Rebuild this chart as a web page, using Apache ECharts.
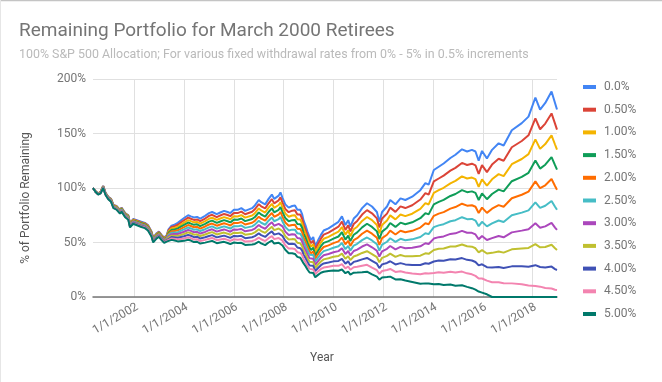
<!DOCTYPE html>
<html><head><meta charset="utf-8">
<script src="https://cdn.jsdelivr.net/npm/echarts@6/dist/echarts.min.js"></script>
<style>html,body{margin:0;padding:0;background:#fff}#c{width:662px;height:382px}</style>
</head><body><div id="c"></div>
<script>
const dates = [
'2000-05-05','2000-06-10','2000-07-20','2000-08-25','2000-10-01','2000-11-05','2000-12-15','2001-01-25','2001-03-01','2001-04-15',
'2001-06-05','2001-06-28','2001-08-20','2001-10-05','2001-10-30','2001-12-15','2002-02-28','2002-04-15','2002-06-05','2002-07-20',
'2002-09-10','2002-10-05','2002-11-25','2002-12-28','2003-02-05','2003-03-15','2003-04-20','2003-05-18','2003-07-01','2003-08-01',
'2003-10-01','2004-01-01','2004-03-01','2004-04-10','2004-05-25','2004-07-10','2004-08-25','2004-11-05','2005-01-01','2005-02-15',
'2005-04-25','2005-06-15','2005-08-10','2005-10-01','2005-11-10','2006-01-01','2006-02-25','2006-04-20','2006-06-15','2006-09-25',
'2006-11-05','2007-01-01','2007-02-05','2007-04-05','2007-05-25','2007-07-12','2007-08-15','2007-09-10','2007-10-20','2007-11-15',
'2007-12-15','2008-01-25','2008-03-15','2008-05-05','2008-06-15','2008-07-20','2008-09-01','2008-09-28','2008-10-20','2008-11-15',
'2008-12-15','2009-01-15','2009-02-05','2009-03-10','2009-04-08','2009-05-20','2009-07-01','2009-08-10','2009-10-20','2010-01-01',
'2010-03-15','2010-05-05','2010-06-25','2010-08-05','2010-09-05','2010-10-25','2010-12-15','2011-02-25','2011-05-08','2011-07-20',
'2011-09-30','2011-11-05','2011-12-15','2012-02-25','2012-04-12','2012-06-28','2012-09-10','2012-11-20','2013-03-01','2013-06-28',
'2013-09-10','2013-10-28','2014-01-12','2014-03-25','2014-06-05','2014-09-12','2014-11-25','2015-03-01','2015-05-15','2015-07-25',
'2015-09-15','2015-11-01','2015-12-20','2016-03-01','2016-05-15','2016-08-20','2016-11-01','2017-03-01','2017-07-25','2017-11-01',
'2018-02-10','2018-04-20','2018-07-05','2018-10-05','2018-11-25','2018-12-24'];

const s0 = [100,97,95,96.5,102,95.5,92,90,84.5,83.5,
80,82,77,75,67.5,71.5,70,69,68,66,
60,54.5,58.5,60,57,54.5,56.5,62,65.5,66,
68,72.5,75,74,73,73.5,72,74.5,77,78,
76,77.5,79,78,77,80,80,81.5,79,81.5,
84,89,87,85,90,94,90,89,93,96,
91,85,82,83.5,84,80,80,76,70,66,
60,55,52.5,55,46.5,52,57,61,63,66,
69,74,66,70.5,64.5,72,75,81.5,86,83,
78,69,78,83,89,85,90.5,89,92,98,
104.5,103,116.5,119.5,122.5,127.5,130.5,135.5,133.5,135,
133.5,125,134,127,135,141,139,153,159.5,165.5,
183,172,178,188.5,178,172];

const s1 = [100,97,94.9,96.4,101.8,95.3,91.8,89.7,84.2,83.2,
79.6,81.6,76.6,74.6,67.1,71.1,69.5,68.5,67.5,65.5,
59.6,54.1,58,59.5,56.5,54,55.9,61,64.2,64.6,
66.3,70.4,72.8,71.8,70.7,71.2,69.7,72,74.4,75.4,
73.3,74.8,76.2,75.2,74.2,77,77,78.3,75.9,78.2,
80.5,85.2,83.2,81.3,86,89.8,85.9,84.9,88.7,91.5,
86.6,80.8,77.8,79.2,79.6,75.7,75.6,71.8,66.1,62.2,
56.5,51.8,49.4,51.7,43.7,48.8,53.5,57.2,59.1,61.8,
64.5,69.1,61.6,65.8,60.1,67,69.8,75.6,79.7,76.8,
72.1,63.7,72,76.5,82,78.1,83.1,81.6,84.2,89.4,
95.3,93.9,106,108.7,111.4,115.9,118.5,123,121.1,122.3,
120.8,113,121,114.6,121.5,126.8,125,137.4,143.1,148.3,
163.8,153.9,159.1,168.4,159,153.6];

const s2 = [100,96.9,94.8,96.2,101.6,95.1,91.5,89.5,83.9,82.8,
79.3,81.3,76.2,74.2,66.8,70.6,69.1,68,67,65,
59.1,53.6,57.6,59,56,53.5,55.4,59.9,62.9,63.2,
64.6,68.3,70.5,69.6,68.5,68.9,67.4,69.6,71.8,72.7,
70.7,72,73.3,72.3,71.3,74,73.9,75.1,72.8,74.8,
76.9,81.3,79.4,77.5,82,85.5,81.8,80.8,84.4,87,
82.3,76.7,73.6,74.8,75.1,71.4,71.2,67.6,62.2,58.5,
53,48.5,46.3,48.4,40.8,45.7,50,53.4,55.2,57.7,
60,64.2,57.2,61.1,55.7,62.1,64.5,69.8,73.4,70.5,
66.1,58.4,66,70.1,74.9,71.2,75.7,74.2,76.4,80.8,
86.1,84.9,95.5,98,100.2,104.3,106.5,110.6,108.7,109.6,
108.1,101,108,102.1,108,112.7,110.9,121.8,126.6,131.1,
144.6,135.9,140.3,148.3,139.9,135.2];

const s3 = [100,96.9,94.7,96.1,101.4,94.9,91.3,89.2,83.6,82.5,
78.9,80.9,75.8,73.8,66.4,70.2,68.6,67.6,66.6,64.5,
58.7,53.2,57.1,58.6,55.6,53,54.8,58.9,61.6,61.8,
62.9,66.2,68.3,67.3,66.2,66.7,65.1,67.1,69.1,70.1,
68,69.3,70.5,69.5,68.5,71,70.9,72,69.6,71.5,
73.4,77.5,75.7,73.8,78,81.3,77.7,76.7,80,82.5,
77.9,72.5,69.5,70.5,70.7,67,66.8,63.5,58.2,54.7,
49.6,45.3,43.2,45.1,38,42.5,46.6,49.7,51.3,53.5,
55.5,59.4,52.7,56.3,51.3,57.1,59.3,63.9,67.2,64.3,
60.2,53.1,60,63.6,67.9,64.3,68.2,66.8,68.5,72.3,
76.9,75.8,85,87.2,89.1,92.7,94.5,98.1,96.2,96.9,
95.5,89,95,89.7,94.5,98.5,96.9,106.2,110.2,113.9,
125.3,117.8,121.4,128.3,120.9,116.8];

const s4 = [100,96.8,94.6,95.9,101.2,94.7,91.1,88.9,83.3,82.2,
78.6,80.5,75.4,73.4,66,69.8,68.2,67.1,66.1,64,
58.2,52.7,56.6,58.1,55.1,52.5,54.2,57.8,60.3,60.4,
61.2,64.1,66,65.1,64,64.4,62.8,64.7,66.5,67.4,
65.4,66.5,67.6,66.6,65.6,68,67.8,68.8,66.5,68.1,
69.9,73.7,71.9,70,74,77.1,73.6,72.6,75.7,78,
73.5,68.3,65.3,66.1,66.2,62.7,62.4,59.3,54.3,51,
46.1,42,40.1,41.8,35.1,39.3,43.1,45.9,47.4,49.4,
51,54.5,48.3,51.6,46.9,52.1,54,58,60.9,58.1,
54.3,47.8,54,57.1,60.9,57.4,60.8,59.4,60.7,63.7,
67.7,66.8,74.5,76.5,77.9,81.1,82.5,85.6,83.8,84.2,
82.8,77,82,77.2,81,84.3,82.8,90.6,93.8,96.7,
106.1,99.8,102.5,108.2,101.8,98.4];

const s5 = [100,96.8,94.5,95.8,101,94.6,90.9,88.7,83,81.9,
78.2,80.2,75.1,73,65.7,69.4,67.7,66.6,65.6,63.5,
57.8,52.3,56.2,57.6,54.6,52.1,53.7,56.8,59,59.1,
59.5,62,63.8,62.9,61.7,62.1,60.5,62.2,63.9,64.8,
62.7,63.8,64.8,63.8,62.8,65,64.8,65.6,63.4,64.8,
66.4,69.9,68.1,66.3,70,72.9,69.5,68.6,71.4,73.5,
69.2,64.2,61.1,61.8,61.8,58.4,58,55.1,50.4,47.2,
42.6,38.8,37,38.5,32.3,36.2,39.6,42.1,43.5,45.2,
46.6,49.6,43.9,46.9,42.6,47.2,48.8,52.2,54.6,51.9,
48.4,42.5,48,50.7,53.9,50.6,53.4,52.1,52.9,55.1,
58.5,57.7,64.1,65.7,66.8,69.5,70.5,73.2,71.4,71.6,
70.1,65,69,64.8,67.5,70.2,68.8,75,77.4,79.5,
86.9,81.7,83.7,88.1,82.8,80];

const s6 = [100,96.7,94.4,95.6,100.8,94.4,90.6,88.4,82.7,81.5,
77.8,79.8,74.7,72.5,65.3,68.9,67.2,66.1,65.1,63,
57.3,51.9,55.7,57.1,54.1,51.6,53.1,55.7,57.6,57.7,
57.8,59.9,61.5,60.7,59.4,59.8,58.2,59.7,61.3,62.1,
60,61,62,60.9,59.9,62,61.8,62.4,60.3,61.5,
62.8,66,64.3,62.6,66,68.6,65.4,64.5,67.1,68.9,
64.8,60,56.9,57.5,57.3,54.1,53.6,50.9,46.5,43.4,
39.1,35.5,33.9,35.2,29.5,33,36.1,38.3,39.5,41,
42.1,44.7,39.5,42.2,38.2,42.2,43.5,46.3,48.3,45.6,
42.4,37.1,41.9,44.2,46.8,43.7,46,44.7,45.1,46.5,
49.3,48.6,53.6,54.9,55.6,57.9,58.4,60.7,59,58.9,
57.4,53,56,52.3,54,56,54.8,59.3,60.9,62.2,
67.7,63.6,64.8,68,63.7,61.6];

const s7 = [100,96.7,94.3,95.5,100.6,94.2,90.4,88.1,82.4,81.2,
77.5,79.4,74.3,72.1,64.9,68.5,66.8,65.6,64.6,62.5,
56.9,51.4,55.2,56.6,53.6,51.1,52.5,54.7,56.3,56.3,
56.1,57.8,59.3,58.5,57.2,57.5,55.9,57.3,58.7,59.5,
57.4,58.3,59.1,58.1,57.1,59,58.7,59.2,57.2,58.1,
59.3,62.2,60.5,58.8,62,64.4,61.3,60.4,62.8,64.4,
60.4,55.8,52.7,53.1,52.9,49.8,49.2,46.7,42.6,39.7,
35.6,32.3,30.8,31.9,26.6,29.8,32.6,34.5,35.6,36.9,
37.6,39.8,35.1,37.5,33.8,37.2,38.3,40.4,42,39.4,
36.5,31.8,35.9,37.7,39.8,36.8,38.6,37.3,37.3,37.9,
40.1,39.6,43.1,44.2,44.5,46.3,46.4,48.2,46.6,46.2,
44.7,41,43,39.9,40.5,41.8,40.7,43.7,44.5,45,
48.5,45.6,45.9,47.9,44.7,43.2];

const s8 = [100,96.6,94.2,95.3,100.4,94,90.2,87.8,82.1,80.9,
77.1,79,73.9,71.7,64.5,68.1,66.3,65.2,64.2,62,
56.4,51,54.7,56.2,53.2,50.6,52,53.6,55,54.9,
54.4,55.7,57,56.2,54.9,55.3,53.6,54.8,56,56.8,
54.7,55.5,56.3,55.2,54.2,56,55.7,56.1,54,54.8,
55.8,58.4,56.8,55.1,58,60.2,57.2,56.3,58.4,59.9,
56,51.6,48.6,48.8,48.4,45.4,44.8,42.6,38.6,35.9,
32.2,29,27.7,28.6,23.8,26.6,29.2,30.8,31.7,32.7,
33.1,35,30.6,32.7,29.4,32.2,33,34.5,35.8,33.2,
30.6,26.5,29.9,31.2,32.8,29.9,31.1,29.9,29.4,29.4,
30.9,30.5,32.6,33.4,33.3,34.7,34.4,35.7,34.1,33.5,
32.1,29,30,27.4,27,27.6,26.7,28.1,28.1,27.8,
29.2,27.5,27,27.9,25.6,24.8];

const s9 = [100,96.6,94.1,95.2,100.2,93.8,89.9,87.6,81.8,80.5,
76.8,78.7,73.5,71.3,64.2,67.6,65.9,64.7,63.7,61.5,
56,50.5,54.3,55.7,52.7,50.1,51.4,52.6,53.7,53.5,
52.7,53.6,54.8,54,52.7,53,51.3,52.4,53.4,54.2,
52.1,52.8,53.4,52.4,51.4,53,52.6,52.9,50.9,51.4,
52.2,54.5,53,51.3,54,55.9,53.1,52.2,54.1,55.4,
51.7,47.5,44.4,44.4,44,41.1,40.4,38.4,34.7,32.2,
28.7,25.8,24.6,25.3,20.9,23.5,25.7,27,27.8,28.6,
28.6,30.1,26.2,28,25,27.3,27.8,28.7,29.5,26.9,
24.6,21.2,23.9,24.8,25.7,23,23.7,22.5,21.6,20.8,
21.7,21.5,22.1,22.7,22.2,23.1,22.4,23.3,21.7,20.8,
19.4,17,17,15,13.5,13.5,12.6,12.5,11.6,10.6,
10,9.5,8.2,7.8,6.6,6.4];

const s10 = [100,96.5,94,95,100,93.6,89.7,87.3,81.5,80.2,
76.4,78.3,73.1,70.9,63.8,67.2,65.4,64.2,63.2,61,
55.5,50.1,53.8,55.2,52.2,49.6,50.8,51.5,52.4,52.1,
51,51.5,52.5,51.8,50.4,50.7,49,49.9,50.8,51.5,
49.4,50,50.6,49.5,48.5,50,49.6,49.7,47.8,48.1,
48.7,50.7,49.2,47.6,50,51.7,49,48.1,49.8,50.9,
47.3,43.3,40.2,40.1,39.5,36.8,36,34.2,30.8,28.4,
25.2,22.5,21.5,22,18.1,20.3,22.2,23.2,23.9,24.4,
24.1,25.2,21.8,23.3,20.6,22.3,22.5,22.8,23.2,20.7,
18.7,15.9,17.9,18.3,18.7,16.1,16.3,15.1,13.8,12.2,
12.5,12.4,11.6,11.9,11,11.5,10.4,10.8,9.3,8.1,
6.7,5,4,2.5,0,0,0,0,0,0,
0,0,0,0,0,0];

const seriesNames = ['0.0%','0.50%','1.00%','1.50%','2.00%','2.50%','3.00%','3.50%','4.00%','4.50%','5.00%'];
const colors = ['#4285F4','#DB4437','#F4B400','#0F9D58','#FF6D00','#46BDC6','#AB47BC','#C0C030','#3F51B5','#F384B0','#00796B'];
const xTickDates = ['2002-01-01','2004-01-01','2006-01-01','2008-01-01','2010-01-01','2012-01-01','2014-01-01','2016-01-01','2018-01-01'];
const yTicks = [0, 50, 100, 150, 200];
const xStart = '2000-05-05';
const xEnd = '2018-12-24';

function ts(s) { const p = s.split('-').map(Number); return Date.UTC(p[0], p[1] - 1, p[2]); }
function fmtDate(v) { const d = new Date(v); return (d.getUTCMonth() + 1) + '/' + d.getUTCDate() + '/' + d.getUTCFullYear(); }
const allSeries = [s0, s1, s2, s3, s4, s5, s6, s7, s8, s9, s10];
const dateTs = dates.map(ts);
const tickTs = xTickDates.map(ts);

const FONT = 'Roboto';
const legendRich = {
  t: {color: '#757575', fontSize: 12, fontFamily: FONT, verticalAlign: 'middle'},
  g: {width: 8, height: 4, verticalAlign: 'middle'}
};
colors.forEach(function (c, i) { legendRich['b' + i] = {width: 13, height: 4, backgroundColor: c, verticalAlign: 'middle'}; });

const chart = echarts.init(document.getElementById('c'), null, {renderer: 'canvas'});
chart.setOption({
  animation: false,
  backgroundColor: '#ffffff',
  textStyle: {fontFamily: FONT},
  color: colors,
  title: {
    text: 'Remaining Portfolio for March 2000 Retirees',
    subtext: '100% S&P 500 Allocation; For various fixed withdrawal rates from 0% - 5% in 0.5% increments',
    left: 19, top: 22, padding: 0, itemGap: 8,
    textStyle: {fontSize: 19, fontWeight: 'normal', color: '#757575', fontFamily: FONT},
    subtextStyle: {fontSize: 12.4, color: '#bababa', fontFamily: FONT}
  },
  legend: {
    orient: 'vertical', left: 577, top: 81, padding: 0,
    icon: 'rect', itemWidth: 1, itemHeight: 1, itemGap: 10.7,
    itemStyle: {opacity: 0, borderWidth: 0},
    lineStyle: {width: 0, opacity: 0},
    data: seriesNames,
    formatter: function (name) { return '{b' + seriesNames.indexOf(name) + '|}{g|}{t|' + name + '}'; },
    textStyle: {color: '#757575', fontSize: 12, fontFamily: FONT, rich: legendRich}
  },
  grid: {left: 93, right: 105, top: 79, bottom: 85, containLabel: false},
  xAxis: {
    type: 'value', min: ts(xStart), max: ts(xEnd),
    axisLine: {show: true, onZero: false, lineStyle: {color: '#777777', width: 1.5}},
    axisTick: {show: false, customValues: tickTs},
    axisLabel: {
      customValues: tickTs, rotate: 30, color: '#757575', fontSize: 12, fontFamily: FONT, margin: 4,
      verticalAlign: 'top', formatter: fmtDate
    },
    splitLine: {show: true, lineStyle: {color: '#e0e0e0', width: 1}}
  },
  yAxis: {
    type: 'value', min: yTicks[0], max: yTicks[yTicks.length - 1], interval: 50,
    axisLine: {show: false}, axisTick: {show: false},
    axisLabel: {formatter: '{value}%', color: '#757575', fontSize: 12, fontFamily: FONT, margin: 7},
    splitLine: {show: true, lineStyle: {color: '#e0e0e0', width: 1}}
  },
  graphic: [
    {type: 'line', shape: {x1: 0, y1: 0.5, x2: 662, y2: 0.5}, style: {stroke: '#c4c4c4', lineWidth: 1.5}, silent: true},
    {type: 'line', shape: {x1: 0.5, y1: 0, x2: 0.5, y2: 382}, style: {stroke: '#e6e6e6', lineWidth: 1}, silent: true},
    {type: 'text', x: 26, y: 198, rotation: Math.PI / 2,
     style: {text: '% of Portfolio Remaining', fill: '#555555', font: '12px Roboto', align: 'center', verticalAlign: 'middle', textAlign: 'center', textVerticalAlign: 'middle'}},
    {type: 'text', x: 322, y: 358,
     style: {text: 'Year', fill: '#555555', font: '12px Roboto', align: 'center', verticalAlign: 'middle', textAlign: 'center', textVerticalAlign: 'middle'}}
  ],
  series: allSeries.map(function (arr, k) {
    return {
      name: seriesNames[k], type: 'line', showSymbol: false, symbol: 'none',
      color: colors[k],
      lineStyle: {width: 2, color: colors[k]},
      emphasis: {disabled: true},
      data: arr.map(function (v, i) { return [dateTs[i], v]; })
    };
  })
});
</script>
</body></html>
